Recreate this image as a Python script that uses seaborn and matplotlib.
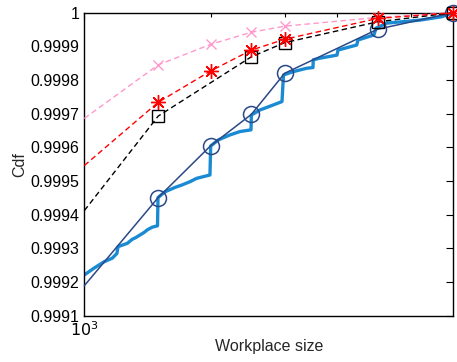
import matplotlib
matplotlib.use("Agg")
import matplotlib.pyplot as plt
import matplotlib.ticker as mticker
import seaborn as sns

# ---- data ----
x_max = 7566
# empirical CDF (thick step-like curve)
emp_x = [1000, 1054, 1114, 1166, 1196, 1203, 1266, 1301, 1326, 1387, 1413, 1452, 1494, 1498,
         1557, 1644, 1706, 1785, 1852, 1992, 2000, 2085, 2223, 2349, 2495, 2500, 2620, 2819,
         2957, 2981, 3146, 3385, 3505, 3510, 3642, 3998, 4020, 4454, 4486, 4897, 4951, 5251,
         6302, 7099, 7566]
emp_y = [0.999221, 0.999241, 0.999260, 0.999271, 0.999285, 0.999305, 0.999315, 0.999327,
         0.999332, 0.999347, 0.999355, 0.999363, 0.999367, 0.999451, 0.999468, 0.999481,
         0.999488, 0.999498, 0.999508, 0.999518, 0.999604, 0.999622, 0.999637, 0.999647,
         0.999652, 0.999696, 0.999711, 0.999726, 0.999736, 0.999815, 0.999825, 0.999835,
         0.999837, 0.999860, 0.999865, 0.999874, 0.999889, 0.999904, 0.999919, 0.999934,
         0.999954, 0.999969, 0.999978, 0.999988, 1.0]

# model with circles
circ_x = [1000, 1500, 2000, 2500, 3000, 5000, x_max]
circ_y = [0.999189, 0.999451, 0.999605, 0.999698, 0.999820, 0.999951, 1.0]

# pink crosses
pink_x = [1000, 1500, 2000, 2500, 3000, 5000, x_max]
pink_y = [0.999686, 0.999845, 0.999906, 0.999942, 0.999960, 0.999986, 1.0]

# red stars
red_x = [1000, 1500, 2000, 2500, 3000, 5000, x_max]
red_y = [0.999546, 0.999734, 0.999827, 0.999889, 0.999921, 0.999983, 1.0]

# black squares
sq_x = [1000, 1500, 2500, 3000, 5000, x_max]
sq_y = [0.999412, 0.999693, 0.999869, 0.999911, 0.999973, 1.0]

yticks = [0.9991, 0.9992, 0.9993, 0.9994, 0.9995, 0.9996, 0.9997, 0.9998, 0.9999, 1.0]
ytick_labels = ["0.9991", "0.9992", "0.9993", "0.9994", "0.9995", "0.9996", "0.9997",
                "0.9998", "0.9999", "1"]

# ---- plot ----
sns.set_style("white")
plt.rcParams["font.family"] = ["Liberation Sans", "DejaVu Sans"]
fs = 11.5

fig = plt.figure(figsize=(4.57, 3.62), dpi=100)
ax = fig.add_axes([84.3 / 457, 1 - 315.7 / 362, (453.3 - 84.3) / 457, (315.7 - 12.7) / 362])

ax.set_xscale("log")

dash = (0, (4, 2.5))
sns.lineplot(x=emp_x, y=emp_y, ax=ax, sort=False, estimator=None,
             color="#1a8bd3", linewidth=2.4, zorder=2)
sns.lineplot(x=circ_x, y=circ_y, ax=ax, sort=False, estimator=None,
             color="#2b4887", linewidth=1.1, marker="o", markersize=11.5,
             markerfacecolor="none", markeredgecolor="#2b4887", markeredgewidth=1.1,
             markevery=list(range(1, len(circ_x))), zorder=3, clip_on=False)
sns.lineplot(x=pink_x, y=pink_y, ax=ax, sort=False, estimator=None,
             color="#ff99cc", linewidth=1.0, linestyle=dash, marker="x",
             markersize=7.5, markeredgewidth=1.0, markeredgecolor="#ff99cc",
             markevery=list(range(1, len(pink_x))), zorder=4, clip_on=False)
sns.lineplot(x=sq_x, y=sq_y, ax=ax, sort=False, estimator=None,
             color="black", linewidth=1.0, linestyle=dash, marker="s",
             markersize=8, markerfacecolor="none", markeredgecolor="black",
             markeredgewidth=1.0,
             markevery=list(range(1, len(sq_x))), zorder=5, clip_on=False)
sns.lineplot(x=red_x, y=red_y, ax=ax, sort=False, estimator=None,
             color="#ff0000", linewidth=1.0, linestyle=dash, marker=(8, 2, 0),
             markersize=10.5, markeredgewidth=1.0, markeredgecolor="#ff0000",
             markevery=list(range(1, len(red_x))), zorder=6, clip_on=False)

ax.set_xlim(1000, x_max)
ax.set_ylim(0.9991, 1.0)
ax.set_yticks(yticks)
ax.set_yticklabels(ytick_labels, fontsize=fs)
ax.xaxis.set_major_locator(mticker.FixedLocator([1000]))
ax.xaxis.set_major_formatter(mticker.FixedFormatter([r"$10^3$"]))
ax.xaxis.set_minor_locator(mticker.FixedLocator([2000, 3000, 4000, 5000, 6000, 7000]))
ax.xaxis.set_minor_formatter(mticker.NullFormatter())
ax.tick_params(axis="both", which="both", direction="in", top=True, right=True,
               colors="black", labelsize=fs)
ax.tick_params(which="major", length=5, width=0.8)
ax.tick_params(which="minor", length=3, width=0.8)
ax.tick_params(axis="x", pad=3)

for s in ax.spines.values():
    s.set_color("black")
    s.set_linewidth(1.0)

ax.set_xlabel("Workplace size", fontsize=fs, labelpad=0)
ax.set_ylabel("Cdf", fontsize=fs, labelpad=2)
ax.grid(False)

fig.savefig("out.png", dpi=100)
